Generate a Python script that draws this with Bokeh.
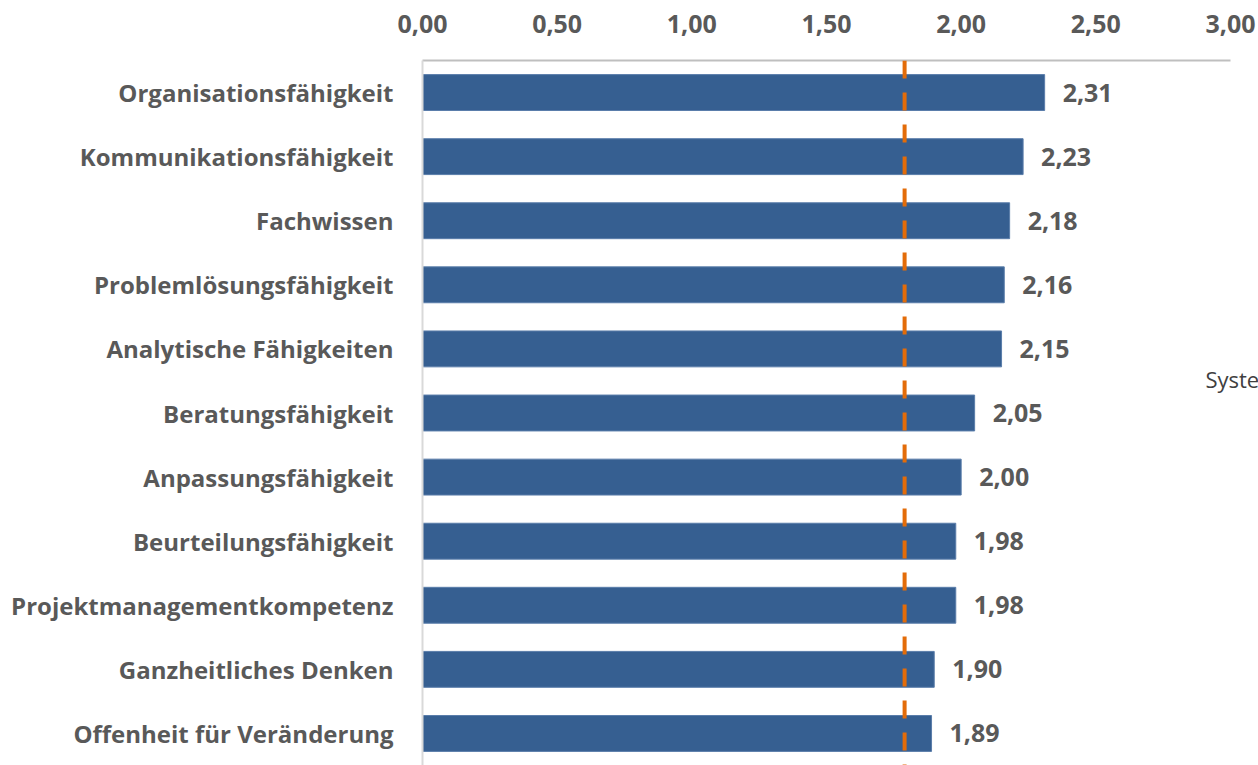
from bokeh.plotting import figure
from bokeh.models import Range1d, FactorRange, Span, Label, CustomJSTickFormatter, FixedTicker, ColumnDataSource
from bokeh.embed import file_html
from bokeh.resources import INLINE
from bokeh.core.properties import value

categories = ["Organisationsfähigkeit", "Kommunikationsfähigkeit", "Fachwissen",
              "Problemlösungsfähigkeit", "Analytische Fähigkeiten", "Beratungsfähigkeit",
              "Anpassungsfähigkeit", "Beurteilungsfähigkeit", "Projektmanagementkompetenz",
              "Ganzheitliches Denken", "Offenheit für Veränderung"]
values = [2.31, 2.23, 2.18, 2.16, 2.15, 2.05, 2.00, 1.98, 1.98, 1.90, 1.89]
average = 1.79
ticks = [0.0, 0.5, 1.0, 1.5, 2.0, 2.5, 3.0]
legend_text = "Syste"

FONT = "Open Sans"
GREY = "#595959"

labels = [f"{v:.2f}".replace(".", ",") for v in values]
src = ColumnDataSource(dict(cat=categories, val=values, lab=labels))

p = figure(width=1258, height=765, output_backend="svg", toolbar_location=None,
           x_range=Range1d(0, 3.104), y_range=FactorRange(factors=list(reversed(categories))),
           x_axis_location="above", min_border_left=422, min_border_right=0,
           min_border_top=60, min_border_bottom=0)
p.outline_line_color = None
p.xgrid.visible = False
p.ygrid.visible = False

p.hbar(y="cat", left=0, right="val", height=0.56, source=src,
       fill_color="#365F91", line_color="#5A7DAA", line_width=1)

p.add_layout(Span(location=average, dimension="height", line_color="#E36C09",
                  line_width=4, line_dash="18 14"))

p.text(x="val", y="cat", text="lab", source=src, x_offset=18,
       text_align="left", text_baseline="middle", text_font=value(FONT),
       text_font_style="bold", text_font_size="25px", text_color=GREY)

# legend text sits between "Analytische Fähigkeiten" and "Beratungsfähigkeit"
legend_y = len(categories) - categories.index("Beratungsfähigkeit")
p.add_layout(Label(x=2.907, y=legend_y, y_offset=2, text=legend_text,
                   text_font=FONT, text_font_size="22px", text_color="#404040",
                   text_font_style="normal", text_baseline="middle", text_align="left"))

xa = p.xaxis[0]
xa.ticker = FixedTicker(ticks=ticks)
xa.bounds = (0, 3)
xa.formatter = CustomJSTickFormatter(code="return tick.toFixed(2).replace('.', ',');")
xa.major_tick_line_color = None
xa.minor_tick_line_color = None
xa.axis_line_color = "#BFBFBF"
xa.axis_line_width = 2
xa.major_label_standoff = 22
xa.major_label_text_font = FONT
xa.major_label_text_font_style = "bold"
xa.major_label_text_font_size = "25px"
xa.major_label_text_color = GREY

ya = p.yaxis[0]
ya.major_tick_line_color = None
ya.minor_tick_line_color = None
ya.axis_line_color = "#D9D9D9"
ya.axis_line_width = 2
ya.major_label_standoff = 23
ya.major_label_text_font = FONT
ya.major_label_text_font_style = "bold"
ya.major_label_text_font_size = "24px"
ya.major_label_text_color = GREY

open("out.html", "w").write(file_html(p, INLINE))
